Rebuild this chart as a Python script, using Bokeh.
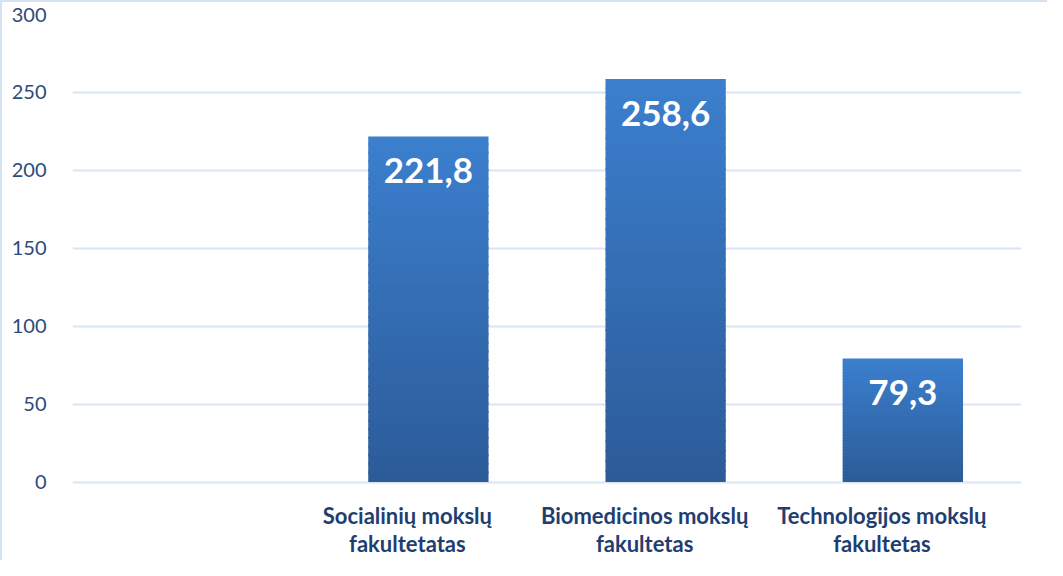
from bokeh.plotting import figure
from bokeh.models import FixedTicker, Range1d, FactorRange, ColumnDataSource, LabelSet
from bokeh.core.properties import value
from bokeh.embed import file_html
from bokeh.resources import INLINE

categories = [" ", "Socialinių mokslų\nfakultetatas", "Biomedicinos mokslų\nfakultetas", "Technologijos mokslų\nfakultetas"]
values = [None, 221.8, 258.6, 79.3]
labels = ["", "221,8", "258,6", "79,3"]
y_ticks = [0, 50, 100, 150, 200, 250, 300]

# frame extends below zero so category labels can live inside it
p = figure(width=1047, height=560, x_range=FactorRange(*categories, range_padding=0),
           y_range=Range1d(-51.6, 300), output_backend="svg", toolbar_location=None,
           min_border_left=70, min_border_right=28, min_border_top=12, min_border_bottom=0)
p.styles = {"border-left": "2px solid #D5E2F3", "border-top": "2px solid #D5E2F3"}
p.outline_line_color = None
p.background_fill_color = "white"

# gradient bars
top_c = (0x3B, 0x7F, 0xCE)
bot_c = (0x2C, 0x5B, 0x98)
N = 40
xs, bots, tops, cols = [], [], [], []
for c, v in zip(categories, values):
    if v is None:
        continue
    for i in range(N):
        f0, f1 = i / N, (i + 1) / N
        t = (i + 0.5) / N
        rgb = tuple(int(round(bot_c[k] + (top_c[k] - bot_c[k]) * t)) for k in range(3))
        xs.append(c); bots.append(v * f0); tops.append(min(v, v * f1 + 1.2))
        cols.append("#%02x%02x%02x" % rgb)
p.vbar(x=xs, bottom=bots, top=tops, width=0.507, fill_color=cols, line_color=None)

shown = [(c, v, l) for c, v, l in zip(categories, values, labels) if v is not None]
src = ColumnDataSource(dict(x=[c for c, v, l in shown],
                            y=[v for c, v, l in shown],
                            z=[0 for c, v, l in shown],
                            t=[l for c, v, l in shown],
                            l1=[c.split("\n")[0] for c, v, l in shown],
                            l2=[c.split("\n")[1] for c, v, l in shown]))
p.add_layout(LabelSet(x="x", y="y", text="t", source=src, text_align="center", text_baseline="top",
                      y_offset=-22, text_color="white", text_font=value("Lato"), text_font_style="bold",
                      text_font_size="35px"))

# category labels (offset left as in the reference), each line centred
for col, off in [("l1", -20), ("l2", -48)]:
    p.add_layout(LabelSet(x="x", y="z", text=col, source=src, text_align="center", text_baseline="top",
                          x_offset=-21, y_offset=off, text_color="#1F3E70", text_font=value("Lato"),
                          text_font_style="bold", text_font_size="22px"))

p.xaxis.visible = False
p.yaxis.ticker = FixedTicker(ticks=y_ticks)
p.ygrid.grid_line_color = "#D9E5F5"
p.ygrid.grid_line_width = 2
p.xgrid.grid_line_color = None
ax = p.yaxis[0]
ax.axis_line_color = None
ax.major_tick_line_color = None
ax.minor_tick_line_color = None
p.yaxis.major_label_text_font = "Lato"
p.yaxis.major_label_text_font_size = "20px"
p.yaxis.major_label_text_color = "#2D4B7B"
p.yaxis.major_label_standoff = 20

open("out.html", "w").write(file_html(p, INLINE))
